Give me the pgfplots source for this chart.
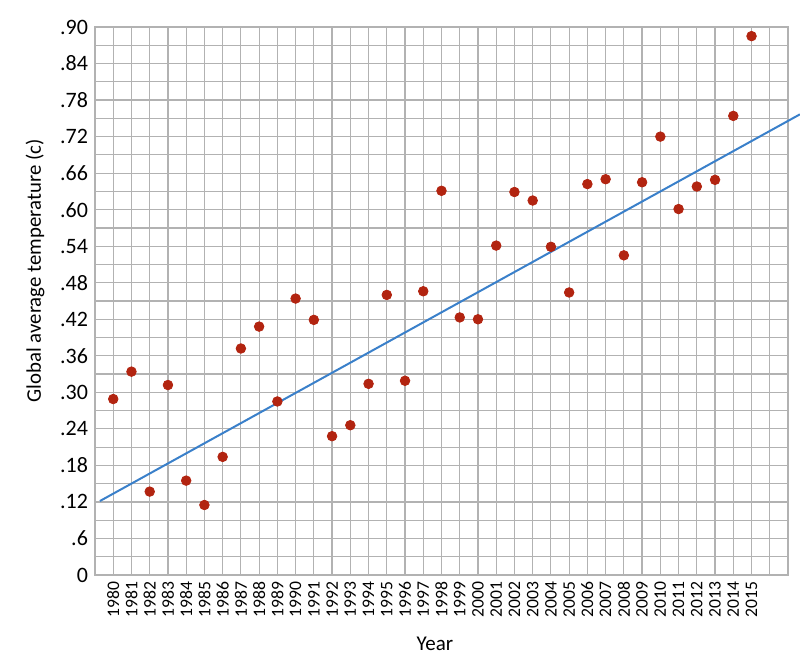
\documentclass[border=0pt]{standalone}
\usepackage{fontspec}
\setmainfont{Carlito}
\usepackage{pgfplots}
\pgfplotsset{compat=1.18}
\definecolor{gridgray}{RGB}{178,178,178}
\definecolor{dotred}{RGB}{178,36,16}
\definecolor{fitblue}{RGB}{58,128,202}
\begin{document}
\begin{tikzpicture}
\begin{axis}[
  scale only axis, width=346.5pt, height=274pt,
  xmin=1979, xmax=2017, ymin=0, ymax=0.90,
  clip=false,
  axis line style={gridgray, line width=0.6pt},
  grid=both,
  major grid style={gridgray, line width=0.6pt},
  minor grid style={gridgray, line width=0.6pt},
  tick style={draw=none},
  xtick={1980,...,2015},
  minor xtick={1979,2016,2017},
  ytick={0,0.06,0.12,0.18,0.24,0.30,0.36,0.42,0.48,0.54,0.60,0.66,0.72,0.78,0.84,0.90},
  minor ytick={0.03,0.09,0.15,0.21,0.27,0.33,0.39,0.45,0.51,0.57,0.63,0.69,0.75,0.81,0.87},
  yticklabels={0,.6,.12,.18,.24,.30,.36,.42,.48,.54,.60,.66,.72,.78,.84,.90},
  /pgf/number format/.cd, 1000 sep={}, assume math mode=true, /pgfplots/.cd,
  xticklabel style={rotate=90, anchor=east, font=\fontsize{8.8}{9}\selectfont},
  yticklabel style={font=\fontsize{11}{11}\selectfont},
  xlabel={Year},
  xlabel style={at={(rel axis cs:0.4906,-0.126)}, anchor=center, font=\fontsize{10.5}{12}\selectfont},
  ylabel={Global average temperature (c)},
  ylabel style={at={(rel axis cs:-0.0866,0.555)}, anchor=center, font=\fontsize{10.4}{12}\selectfont},
]
\addplot[fitblue, line width=1pt] coordinates {(1979.27,0.1215) (2017.65,0.7565)};
\addplot[only marks, mark=*, mark size=2.4pt, color=dotred] coordinates {
(1980,0.289) (1981,0.334) (1982,0.137) (1983,0.312) (1984,0.155)
(1985,0.115) (1986,0.194) (1987,0.372) (1988,0.408) (1989,0.285)
(1990,0.454) (1991,0.419) (1992,0.228) (1993,0.246) (1994,0.314)
(1995,0.460) (1996,0.319) (1997,0.466) (1998,0.631) (1999,0.423)
(2000,0.420) (2001,0.541) (2002,0.629) (2003,0.615) (2004,0.539)
(2005,0.464) (2006,0.642) (2007,0.650) (2008,0.525) (2009,0.645)
(2010,0.720) (2011,0.601) (2012,0.638) (2013,0.649) (2014,0.754)
(2015,0.885)};
\coordinate (bbsw) at (rel axis cs:-0.13709,-0.16241);
\coordinate (bbne) at (rel axis cs:1.01732,1.04927);
\end{axis}
\pgfresetboundingbox
\path[use as bounding box] (bbsw) rectangle (bbne);
\end{tikzpicture}
\end{document}
